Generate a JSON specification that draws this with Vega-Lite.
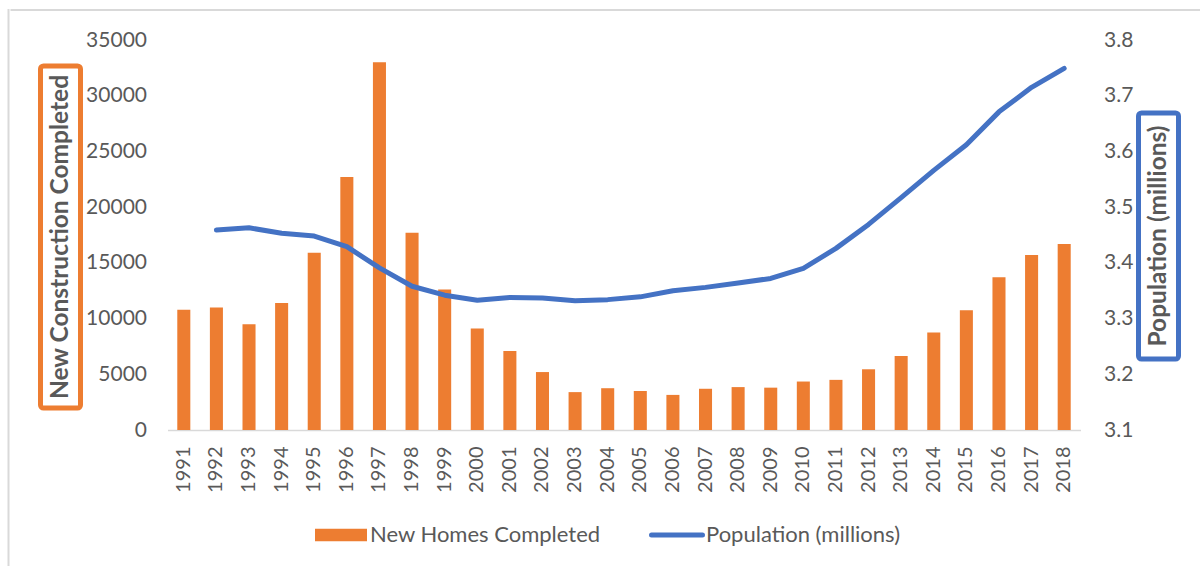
{
  "$schema": "https://vega.github.io/schema/vega-lite/v6.json",
  "padding": {"left": 7.5, "top": 9, "right": 0, "bottom": 0},
  "background": "white",
  "bounds": "full",
  "spacing": 0,
  "config": {"font": "Lato", "view": {"stroke": null}},
  "datasets": {
    "main": [
      {"year": "1991", "homes": 10800, "pop": null},
      {"year": "1992", "homes": 11000, "pop": 3.459},
      {"year": "1993", "homes": 9500, "pop": 3.463},
      {"year": "1994", "homes": 11400, "pop": 3.453},
      {"year": "1995", "homes": 15900, "pop": 3.448},
      {"year": "1996", "homes": 22700, "pop": 3.429},
      {"year": "1997", "homes": 33000, "pop": 3.391},
      {"year": "1998", "homes": 17700, "pop": 3.358},
      {"year": "1999", "homes": 12600, "pop": 3.342},
      {"year": "2000", "homes": 9100, "pop": 3.333},
      {"year": "2001", "homes": 7100, "pop": 3.338},
      {"year": "2002", "homes": 5200, "pop": 3.337},
      {"year": "2003", "homes": 3400, "pop": 3.332},
      {"year": "2004", "homes": 3750, "pop": 3.334},
      {"year": "2005", "homes": 3500, "pop": 3.339},
      {"year": "2006", "homes": 3150, "pop": 3.350},
      {"year": "2007", "homes": 3700, "pop": 3.356},
      {"year": "2008", "homes": 3850, "pop": 3.364},
      {"year": "2009", "homes": 3800, "pop": 3.372},
      {"year": "2010", "homes": 4350, "pop": 3.390},
      {"year": "2011", "homes": 4500, "pop": 3.426},
      {"year": "2012", "homes": 5450, "pop": 3.469},
      {"year": "2013", "homes": 6650, "pop": 3.517},
      {"year": "2014", "homes": 8750, "pop": 3.566},
      {"year": "2015", "homes": 10750, "pop": 3.612},
      {"year": "2016", "homes": 13700, "pop": 3.671},
      {"year": "2017", "homes": 15700, "pop": 3.715},
      {"year": "2018", "homes": 16700, "pop": 3.749}
    ]
  },
  "hconcat": [
    {"width": 0.01, "height": 555, "data": {"values": []}, "mark": "text", "view": {"stroke": "#D9D9D9", "strokeWidth": 2}},
    {
      "spacing": 17,
      "vconcat": [
        {"width": 1188, "height": 0.01, "data": {"values": []}, "mark": "text", "view": {"stroke": "#D9D9D9", "strokeWidth": 2}},
        {
          "spacing": 2,
          "hconcat": [
            {"width": 24, "height": 1, "data": {"values": []}, "mark": "text", "view": {"fill": "white", "stroke": null}},
            {
              "spacing": 0,
              "vconcat": [
                {"width": 40, "height": 22.5, "data": {"values": []}, "mark": "text", "view": {"fill": "white", "stroke": null}},
                {
                  "width": 40, "height": 342,
                  "data": {"values": [{"t": "New Construction Completed"}]},
                  "mark": {"type": "text", "angle": 270, "fontSize": 24.5, "fontWeight": "bold", "color": "#595959", "font": "Lato"},
                  "encoding": {"text": {"field": "t"}},
                  "view": {"stroke": "#ED7D31", "strokeWidth": 5, "cornerRadius": 3, "fill": "white"}
                }
              ]
            },
            {
              "width": 913, "height": 390,
              "data": {"name": "main"},
              "encoding": {
                "x": {
                  "field": "year", "type": "ordinal",
                  "scale": {"paddingInner": 0.6, "paddingOuter": 0.3},
                  "axis": {"title": null, "labelAngle": 270, "labelFontSize": 20, "labelColor": "#595959", "labelPadding": 16, "ticks": false, "tickSize": 0, "domainColor": "#D9D9D9", "domainWidth": 1.5, "labelFont": "Lato"}
                }
              },
              "layer": [
                {
                  "mark": {"type": "bar"},
                  "encoding": {
                    "y": {
                      "field": "homes", "type": "quantitative",
                      "scale": {"domain": [0, 35000], "nice": false},
                      "axis": {"title": null, "values": [0, 5000, 10000, 15000, 20000, 25000, 30000, 35000], "format": "d", "grid": false, "ticks": false, "tickSize": 0, "domain": false, "labelFontSize": 21, "labelColor": "#595959", "labelPadding": 21, "labelFont": "Lato"}
                    },
                    "color": {
                      "datum": "New Homes Completed",
                      "scale": {"domain": ["New Homes Completed", "Population (millions)"], "range": ["#ED7D31", "#4472C4"]},
                      "legend": {
                        "orient": "none", "legendX": 321.5, "legendY": 514,
                        "direction": "horizontal", "title": null,
                        "symbolSize": 2704, "labelFontSize": 22, "labelColor": "#595959", "labelFont": "Lato",
                        "labelOffset": 18, "columnPadding": 40, "labelLimit": 0,
                        "encode": {
                          "symbols": {
                            "update": {
                              "shape": {"signal": "datum.value === 'New Homes Completed' ? 'M-1,-0.24H1V0.24H-1Z' : 'M-0.98,0H0.98'"},
                              "fill": {"signal": "datum.value === 'New Homes Completed' ? '#ED7D31' : 'transparent'"},
                              "stroke": {"signal": "datum.value === 'New Homes Completed' ? 'transparent' : '#4472C4'"},
                              "strokeWidth": {"signal": "datum.value === 'New Homes Completed' ? 0 : 5"},
                              "strokeCap": {"value": "round"},
                              "opacity": {"value": 1}
                            }
                          }
                        }
                      }
                    }
                  }
                },
                {
                  "mark": {"type": "line", "strokeWidth": 5, "strokeCap": "round", "strokeJoin": "round"},
                  "encoding": {
                    "y": {
                      "field": "pop", "type": "quantitative",
                      "scale": {"domain": [3.1, 3.8], "nice": false, "zero": false},
                      "axis": {"orient": "right", "title": null, "values": [3.1, 3.2, 3.3, 3.4, 3.5, 3.6, 3.7, 3.8], "format": ".1f", "grid": false, "ticks": false, "tickSize": 0, "domain": false, "labelFontSize": 21, "labelColor": "#595959", "labelPadding": 23, "labelFont": "Lato"}
                    },
                    "color": {"datum": "Population (millions)"}
                  }
                }
              ],
              "resolve": {"scale": {"y": "independent"}}
            },
            {
              "spacing": 0,
              "vconcat": [
                {"width": 40, "height": 69.5, "data": {"values": []}, "mark": "text", "view": {"fill": "white", "stroke": null}},
                {
                  "width": 40, "height": 246,
                  "data": {"values": [{"t": "Population (millions)"}]},
                  "mark": {"type": "text", "angle": 270, "fontSize": 24.5, "fontWeight": "bold", "color": "#595959", "font": "Lato"},
                  "encoding": {"text": {"field": "t"}},
                  "view": {"stroke": "#4472C4", "strokeWidth": 5, "cornerRadius": 3, "fill": "white"}
                }
              ]
            }
          ]
        }
      ]
    }
  ]
}
